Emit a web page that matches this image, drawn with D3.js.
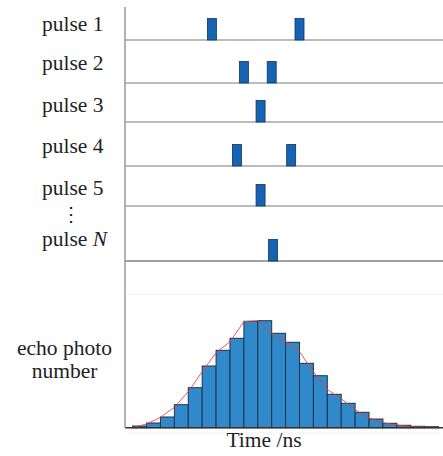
<!DOCTYPE html>
<html>
<head>
<meta charset="utf-8">
<script src="https://cdn.jsdelivr.net/npm/d3@7"></script>
<style>
  body { margin: 0; background: #fff; }
</style>
</head>
<body>
<div class="visual"></div>
<script>
// pulse rows: label + photon arrival times (in bin units)
const pulseLabels = ["1", "2", "3", "4", "5", "N"];
const pulseTimes = [[5.7, 12.0], [8.0, 10.0], [9.2], [7.5, 11.4], [9.2], [10.1]];

// histogram of echo photon counts per time bin
const binCounts = [1.7, 4.7, 10.7, 23, 40, 61.7, 77.4, 89.4, 106.4, 107, 94.4, 85.4,
                   64.4, 52, 33.4, 24.4, 15.4, 8.7, 4.4, 2.4, 1.4, 1.0];
// fitted curve, sampled at bin edges
const fitCounts = [0, 3.7, 10.4, 20.4, 36, 56, 75, 86, 106, 107, 94.4, 86, 76,
                   56, 38, 29, 18, 9.5, 5, 2.7, 1, 0.5, 0.3];

const W = 443, H = 456;
const axisX = 125;
const rowBase = [40, 83, 122, 166, 206, 261];   // layout of the pulse rows
const labelBase = [31, 70, 111.7, 153, 195, 246];
const histBase = 427.7;
const serif = "'Liberation Serif', 'DejaVu Serif', serif";

const svg = d3.select(".visual").append("svg")
    .attr("width", W)
    .attr("height", H)
    .style("font-family", serif);

const x = d3.scaleLinear().domain([-0.55, 22.32]).range([axisX, W]);
const y = d3.scaleLinear().domain([0, 110]).range([histBase, histBase - 110]);

// faint frame lines
svg.append("line")
    .attr("x1", axisX).attr("x2", W).attr("y1", 294.5).attr("y2", 294.5)
    .attr("stroke", "#eef4f8").attr("stroke-width", 1);
svg.append("line")
    .attr("x1", 128).attr("x2", 440).attr("y1", 433).attr("y2", 433)
    .attr("stroke", "#eef1f4").attr("stroke-width", 1);

// pulse rows
const rows = svg.selectAll("g.row")
    .data(pulseTimes)
    .enter()
    .append("g")
    .attr("class", "row");

rows.append("line")
    .attr("x1", axisX)
    .attr("x2", W)
    .attr("y1", (d, i) => rowBase[i])
    .attr("y2", (d, i) => rowBase[i])
    .attr("stroke", (d, i) => i === pulseTimes.length - 1 ? "#444" : "#7a7a7a")
    .attr("stroke-width", 1.2);

rows.selectAll("rect")
    .data((d, i) => d.map(t => ({ t: t, row: i })))
    .enter()
    .append("rect")
    .attr("x", d => x(d.t) - 4.5)
    .attr("y", d => rowBase[d.row] - 21.5)
    .attr("width", 9)
    .attr("height", 21.5)
    .attr("fill", "#1763b3")
    .attr("stroke", "#0e3563")
    .attr("stroke-width", 0.8);

const labels = svg.selectAll("text.plabel")
    .data(pulseLabels)
    .enter()
    .append("text")
    .attr("class", "plabel")
    .attr("x", 42)
    .attr("y", (d, i) => labelBase[i])
    .attr("fill", "#222")
    .style("font-family", serif)
    .style("font-size", "21.5px");
labels.append("tspan").text("pulse ");
labels.append("tspan")
    .style("font-style", d => d === "N" ? "italic" : "normal")
    .text(d => d);

// vertical ellipsis between pulse 5 and pulse N
svg.append("text")
    .attr("x", 71)
    .attr("y", 221)
    .attr("text-anchor", "middle")
    .attr("fill", "#222")
    .style("font-family", serif)
    .style("font-size", "20px")
    .text("\u22EE");

// histogram bars
svg.append("g")
    .selectAll("rect")
    .data(binCounts)
    .enter()
    .append("rect")
    .attr("x", (d, i) => x(i))
    .attr("y", d => y(d))
    .attr("width", (d, i) => x(i + 1) - x(i))
    .attr("height", d => histBase - y(d))
    .attr("fill", "#3089cb")
    .attr("stroke", "#1f3447")
    .attr("stroke-width", 1);

// fit curve
const line = d3.line()
    .x((d, i) => x(i))
    .y(d => y(d));
svg.append("path")
    .datum(fitCounts)
    .attr("d", line)
    .attr("fill", "none")
    .attr("stroke", "#ee3a3a")
    .attr("stroke-opacity", 0.85)
    .attr("stroke-width", 1);

// histogram baseline
svg.append("line")
    .attr("x1", axisX).attr("x2", W).attr("y1", histBase).attr("y2", histBase)
    .attr("stroke", "#333").attr("stroke-width", 1.5);

// vertical axis
svg.append("line")
    .attr("x1", axisX).attr("x2", axisX).attr("y1", 7).attr("y2", histBase)
    .attr("stroke", "#9a9a9a").attr("stroke-width", 1.5);

// y label
const ylab = svg.append("text")
    .attr("text-anchor", "middle")
    .attr("fill", "#222")
    .style("font-family", serif)
    .style("font-size", "21.5px");
ylab.append("tspan").attr("x", 64.5).attr("y", 355).text("echo photo");
ylab.append("tspan").attr("x", 64.5).attr("y", 378).text("number");

// x label
svg.append("text")
    .attr("x", 264)
    .attr("y", 447)
    .attr("text-anchor", "middle")
    .attr("fill", "#222")
    .style("font-family", serif)
    .style("font-size", "21.5px")
    .text("Time /ns");
</script>
</body>
</html>
